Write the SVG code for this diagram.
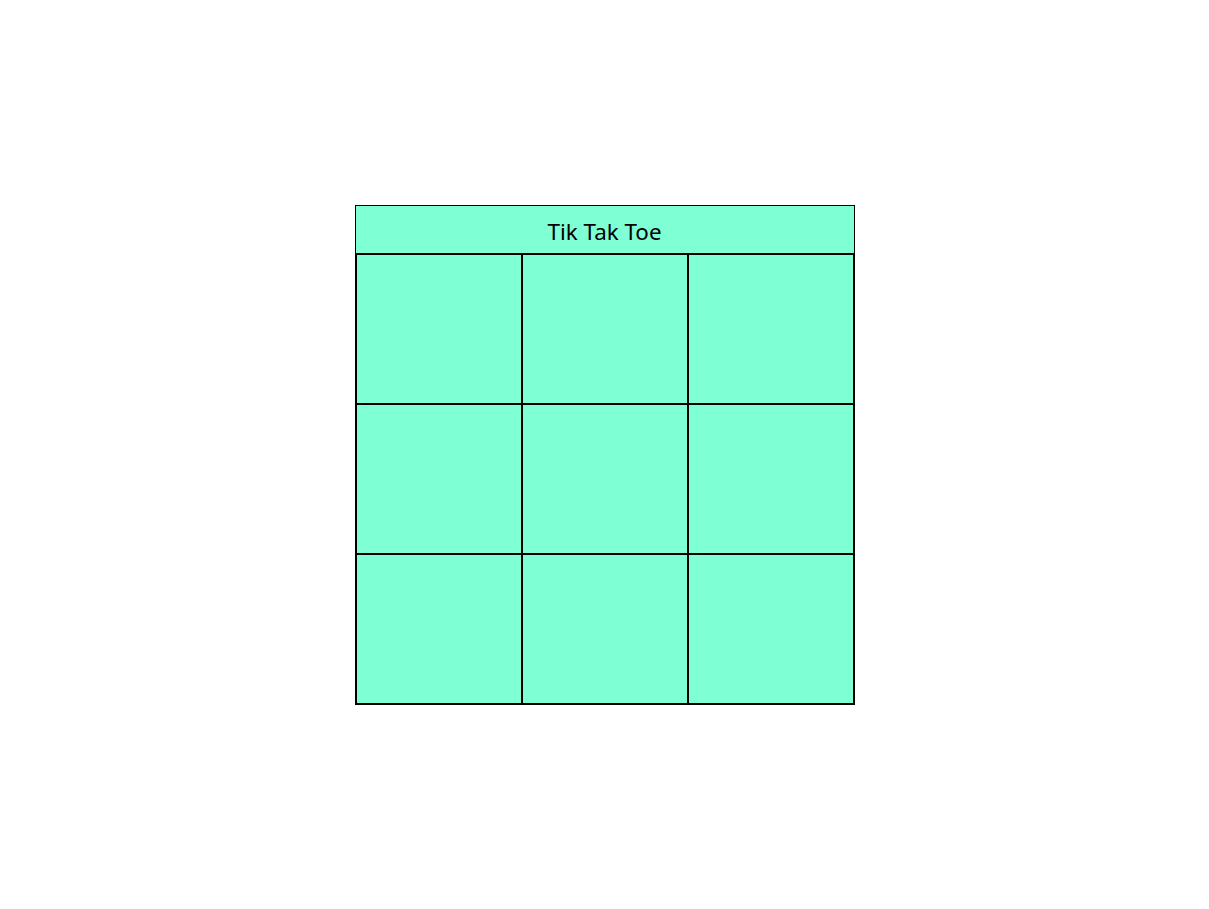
<svg xmlns="http://www.w3.org/2000/svg" width="1209" height="909" viewBox="0 0 1209 909">
<style>
.board{fill:#7FFFD4;stroke:#000;stroke-width:1}
.cell{fill:#7FFFD4;stroke:#000;stroke-width:2}
.title{font-family:"Noto Sans","Open Sans",sans-serif;font-size:22.4px;fill:#000;text-anchor:middle}
</style>
<rect width="1209" height="909" fill="#fff"/>
<g id="board">
<rect class="board" x="355.5" y="205.5" width="499" height="498"/>
<text class="title" x="604.5" y="239.5">Tik Tak Toe</text>
</g>
<g id="cell-1-1"><rect class="cell" x="356" y="254" width="166" height="150"/></g>
<g id="cell-1-2"><rect class="cell" x="522" y="254" width="166" height="150"/></g>
<g id="cell-1-3"><rect class="cell" x="688" y="254" width="166" height="150"/></g>
<g id="cell-2-1"><rect class="cell" x="356" y="404" width="166" height="150"/></g>
<g id="cell-2-2"><rect class="cell" x="522" y="404" width="166" height="150"/></g>
<g id="cell-2-3"><rect class="cell" x="688" y="404" width="166" height="150"/></g>
<g id="cell-3-1"><rect class="cell" x="356" y="554" width="166" height="150"/></g>
<g id="cell-3-2"><rect class="cell" x="522" y="554" width="166" height="150"/></g>
<g id="cell-3-3"><rect class="cell" x="688" y="554" width="166" height="150"/></g>
<g id="connectors"></g>
</svg>
